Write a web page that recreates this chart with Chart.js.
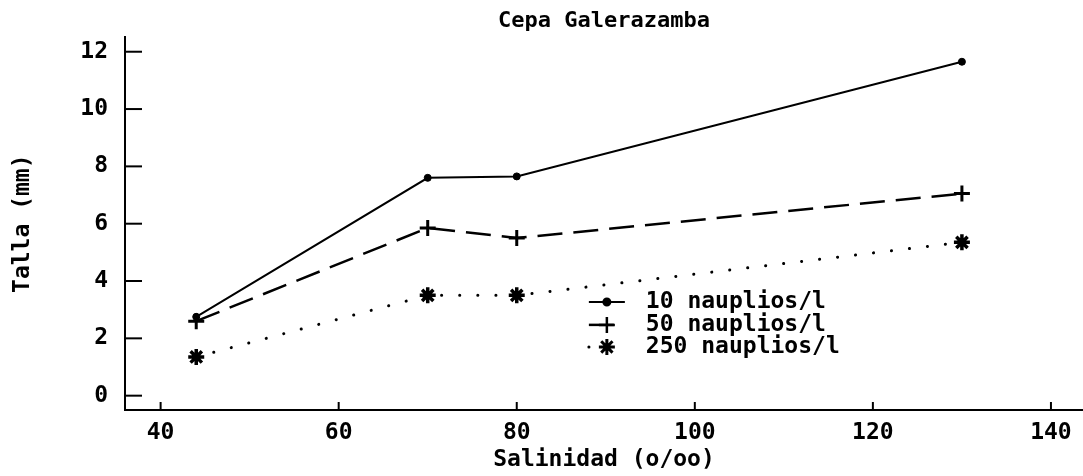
<!DOCTYPE html>
<html>
<head>
<meta charset="utf-8">
<script src="https://cdn.jsdelivr.net/npm/chart.js@4/dist/chart.umd.min.js"></script>
<style>
  html, body { margin: 0; padding: 0; background: #fff; }
</style>
</head>
<body>
<canvas id="salinidadChart" width="1083" height="476"></canvas>
<script>
// data
var salinidad = [44, 70, 80, 130];
var talla10 = [2.75, 7.6, 7.65, 11.65];
var talla50 = [2.6, 5.85, 5.5, 7.05];
var talla250 = [1.35, 3.5, 3.5, 5.35];
var seriesNames = ["10 nauplios/l", "50 nauplios/l", "250 nauplios/l"];
var xTicks = [40, 60, 80, 100, 120, 140];
var yTicks = [0, 2, 4, 6, 8, 10, 12];

function toPoints(xs, ys) {
  return xs.map(function (x, i) { return { x: x, y: ys[i] }; });
}

var plotFont = "'DejaVu Sans Mono', 'Liberation Mono', monospace";
Chart.defaults.font.family = plotFont;
Chart.defaults.font.size = 23;
Chart.defaults.font.weight = "bold";
Chart.defaults.color = "#000";

// tick marks drawn inside the plot, like the original plotter output
var innerTicks = {
  id: "innerTicks",
  afterDraw: function (chart) {
    var ctx = chart.ctx;
    var area = chart.chartArea;
    var xs = chart.scales.x, ys = chart.scales.y;
    ctx.save();
    ctx.strokeStyle = "#000";
    ctx.lineWidth = 2;
    ys.ticks.forEach(function (t) {
      var py = ys.getPixelForValue(t.value);
      ctx.beginPath();
      ctx.moveTo(area.left, py);
      ctx.lineTo(area.left + 17, py);
      ctx.stroke();
    });
    xs.ticks.forEach(function (t) {
      var px = xs.getPixelForValue(t.value);
      ctx.beginPath();
      ctx.moveTo(px, area.bottom);
      ctx.lineTo(px, area.bottom - 8);
      ctx.stroke();
    });
    ctx.restore();
  }
};

// legend placed inside the plot area
var insideLegend = {
  id: "insideLegend",
  afterDraw: function (chart) {
    var ctx = chart.ctx;
    var xs = chart.scales.x, ys = chart.scales.y;
    var lineStart = xs.getPixelForValue(88.1);
    var lineEnd = lineStart + 36;
    var textX = lineStart + 57;
    var rowY = [ys.getPixelForValue(3.27), ys.getPixelForValue(2.47), ys.getPixelForValue(1.70)];
    ctx.save();
    chart.data.datasets.forEach(function (ds, i) {
      var y = rowY[i];
      ctx.strokeStyle = "#000";
      ctx.lineWidth = ds.borderWidth;
      ctx.lineCap = ds.borderCapStyle || "butt";
      ctx.setLineDash(ds.borderDash || []);
      ctx.beginPath();
      ctx.moveTo(lineStart, y);
      ctx.lineTo(lineEnd, y);
      ctx.stroke();
      ctx.setLineDash([]);
      ctx.lineCap = "butt";
      Chart.helpers.drawPoint(ctx, {
        pointStyle: ds.pointStyle,
        radius: ds.pointRadius,
        borderWidth: ds.pointBorderWidth,
        rotation: 0
      }, (lineStart + lineEnd) / 2, y);
      ctx.fillStyle = "#000";
      ctx.font = "bold 23px " + plotFont;
      ctx.textAlign = "left";
      ctx.textBaseline = "middle";
      ctx.fillText(seriesNames[i], textX, y);
    });
    ctx.restore();
  }
};

var ctx = document.getElementById("salinidadChart").getContext("2d");
var salinidadChart = new Chart(ctx, {
  type: "scatter",
  data: {
    datasets: [
      {
        label: seriesNames[0],
        data: toPoints(salinidad, talla10),
        showLine: true,
        borderColor: "#000",
        backgroundColor: "#000",
        borderWidth: 2,
        pointStyle: "circle",
        pointRadius: 3.5,
        pointBorderWidth: 1
      },
      {
        label: seriesNames[1],
        data: toPoints(salinidad, talla50),
        showLine: true,
        borderColor: "#000",
        backgroundColor: "#000",
        borderWidth: 2.5,
        borderDash: [25, 11],
        pointStyle: "cross",
        pointRadius: 8,
        pointBorderWidth: 3
      },
      {
        label: seriesNames[2],
        data: toPoints(salinidad, talla250),
        showLine: true,
        borderColor: "#000",
        backgroundColor: "#000",
        borderWidth: 3,
        borderDash: [0.1, 18],
        borderCapStyle: "round",
        pointStyle: "star",
        pointRadius: 8,
        pointBorderWidth: 3.5
      }
    ]
  },
  options: {
    responsive: false,
    animation: false,
    devicePixelRatio: 1,
    layout: { autoPadding: false, padding: { left: 0, right: 0, top: 0, bottom: 0 } },
    plugins: {
      legend: { display: false },
      tooltip: { enabled: false },
      title: {
        display: true,
        fullSize: false,
        text: "Cepa Galerazamba",
        font: { size: 22, weight: "bold" },
        padding: { top: 8, bottom: 3 }
      }
    },
    scales: {
      x: {
        type: "linear",
        min: 36,
        max: 143.6,
        afterBuildTicks: function (s) { s.ticks = xTicks.map(function (v) { return { value: v }; }); },
        afterFit: function (s) { s.height = 66; s.paddingLeft = 0; s.paddingRight = 0; },
        grid: { display: false, drawTicks: false },
        border: { display: true, color: "#000", width: 2 },
        ticks: { padding: 9, maxRotation: 0, autoSkip: false },
        title: { display: true, text: "Salinidad (o/oo)", padding: { top: 0, bottom: 2 } }
      },
      y: {
        type: "linear",
        min: -0.5,
        max: 12.5,
        afterBuildTicks: function (s) { s.ticks = yTicks.map(function (v) { return { value: v }; }); },
        afterFit: function (s) { s.width = 125; s.paddingTop = 0; s.paddingBottom = 0; },
        grid: { display: false, drawTicks: false },
        border: { display: true, color: "#000", width: 2 },
        ticks: { padding: 17 },
        title: { display: true, text: "Talla (mm)", padding: { top: 9, bottom: 0 } }
      }
    }
  },
  plugins: [innerTicks, insideLegend]
});
</script>
</body>
</html>
